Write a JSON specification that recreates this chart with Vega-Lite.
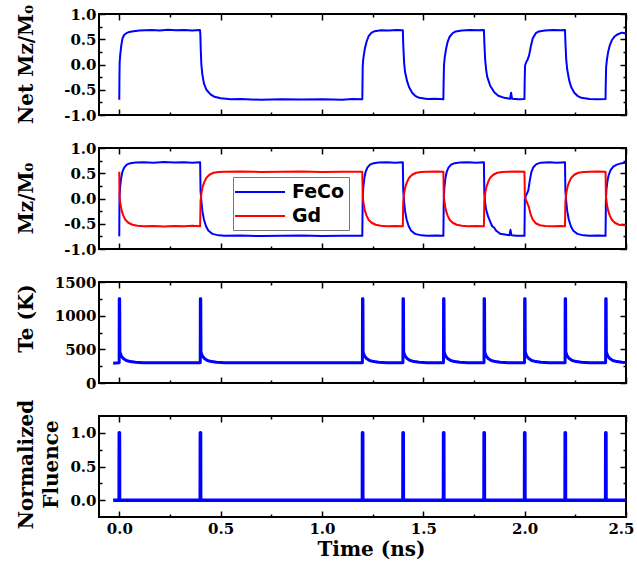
{
"$schema": "https://vega.github.io/schema/vega-lite/v6.json",
"background": "white",
"padding": {"left": 14, "top": 3, "right": 5, "bottom": 5},
"config": {
  "view": {"stroke": "#000", "strokeWidth": 2},
  "axis": {"domain": false, "grid": false, "ticks": true, "tickColor": "#000", "tickWidth": 1.5, "labelFlush": false,
    "offset": -6, "tickSize": 6,
    "labelFont": "DejaVu Serif", "labelFontWeight": "bold", "labelFontSize": 15, "labelColor": "#000",
    "titleFont": "DejaVu Serif", "titleFontWeight": "bold", "titleFontSize": 20, "titleColor": "#000"}
},
"resolve": {"legend": {"color": "independent"}},
"spacing": 33,
"bounds": "flush",
"datasets": {
"net": [
{"t":0,"v":-0.70},{"t":0.001,"v":-0.20},{"t":0.002,"v":0.05},{"t":0.005,"v":0.20},{"t":0.010,"v":0.38},{"t":0.016,"v":0.52},{"t":0.025,"v":0.59},{"t":0.035,"v":0.62},{"t":0.05,"v":0.645},{"t":0.07,"v":0.66},{"t":0.10,"v":0.675},{"t":0.13,"v":0.68},{"t":0.16,"v":0.685},{"t":0.20,"v":0.675},{"t":0.24,"v":0.69},{"t":0.28,"v":0.68},{"t":0.32,"v":0.685},{"t":0.36,"v":0.675},{"t":0.398,"v":0.685},
{"t":0.400,"v":0.60},{"t":0.402,"v":0.30},{"t":0.405,"v":0.00},{"t":0.410,"v":-0.20},{"t":0.418,"v":-0.38},{"t":0.430,"v":-0.50},{"t":0.45,"v":-0.59},{"t":0.47,"v":-0.64},{"t":0.50,"v":-0.67},{"t":0.55,"v":-0.69},{"t":0.60,"v":-0.685},{"t":0.70,"v":-0.70},{"t":0.80,"v":-0.69},{"t":0.90,"v":-0.695},{"t":1.00,"v":-0.69},{"t":1.10,"v":-0.70},{"t":1.15,"v":-0.685},{"t":1.199,"v":-0.69},
{"t":1.200,"v":-0.40},{"t":1.201,"v":-0.05},{"t":1.203,"v":0.08},{"t":1.207,"v":0.20},{"t":1.212,"v":0.32},{"t":1.22,"v":0.45},{"t":1.23,"v":0.56},{"t":1.245,"v":0.63},{"t":1.26,"v":0.66},{"t":1.29,"v":0.68},{"t":1.33,"v":0.675},{"t":1.37,"v":0.685},{"t":1.399,"v":0.68},
{"t":1.401,"v":0.40},{"t":1.405,"v":0.05},{"t":1.41,"v":-0.15},{"t":1.42,"v":-0.33},{"t":1.43,"v":-0.45},{"t":1.445,"v":-0.56},{"t":1.46,"v":-0.62},{"t":1.48,"v":-0.66},{"t":1.52,"v":-0.685},{"t":1.56,"v":-0.68},{"t":1.599,"v":-0.69},
{"t":1.600,"v":-0.40},{"t":1.602,"v":-0.02},{"t":1.606,"v":0.15},{"t":1.612,"v":0.30},{"t":1.62,"v":0.45},{"t":1.63,"v":0.55},{"t":1.645,"v":0.62},{"t":1.66,"v":0.655},{"t":1.69,"v":0.675},{"t":1.73,"v":0.685},{"t":1.77,"v":0.68},{"t":1.799,"v":0.685},
{"t":1.801,"v":0.45},{"t":1.805,"v":0.10},{"t":1.81,"v":-0.10},{"t":1.815,"v":-0.24},{"t":1.83,"v":-0.42},{"t":1.85,"v":-0.55},{"t":1.87,"v":-0.62},{"t":1.90,"v":-0.66},{"t":1.928,"v":-0.68},{"t":1.933,"v":-0.56},{"t":1.938,"v":-0.68},{"t":1.97,"v":-0.69},{"t":1.999,"v":-0.685},
{"t":2.000,"v":-0.35},{"t":2.002,"v":-0.02},{"t":2.008,"v":0.05},{"t":2.015,"v":0.10},{"t":2.022,"v":0.18},{"t":2.03,"v":0.35},{"t":2.04,"v":0.52},{"t":2.055,"v":0.62},{"t":2.07,"v":0.655},{"t":2.10,"v":0.675},{"t":2.14,"v":0.685},{"t":2.18,"v":0.68},{"t":2.199,"v":0.685},
{"t":2.201,"v":0.45},{"t":2.205,"v":0.10},{"t":2.21,"v":-0.10},{"t":2.22,"v":-0.32},{"t":2.23,"v":-0.45},{"t":2.245,"v":-0.56},{"t":2.26,"v":-0.62},{"t":2.28,"v":-0.66},{"t":2.32,"v":-0.685},{"t":2.36,"v":-0.69},{"t":2.399,"v":-0.685},
{"t":2.400,"v":-0.40},{"t":2.402,"v":-0.05},{"t":2.406,"v":0.10},{"t":2.412,"v":0.25},{"t":2.42,"v":0.38},{"t":2.43,"v":0.48},{"t":2.445,"v":0.56},{"t":2.46,"v":0.60},{"t":2.48,"v":0.63},{"t":2.495,"v":0.62},{"t":2.50,"v":0.60}
],
"mag": [
{"s":"FeCo","t":0,"v":-0.75},{"s":"FeCo","t":0.001,"v":0.0},{"s":"FeCo","t":0.004,"v":0.22},{"s":"FeCo","t":0.009,"v":0.40},{"s":"FeCo","t":0.015,"v":0.52},{"s":"FeCo","t":0.024,"v":0.61},{"s":"FeCo","t":0.037,"v":0.67},{"s":"FeCo","t":0.055,"v":0.70},{"s":"FeCo","t":0.08,"v":0.715},{"s":"FeCo","t":0.12,"v":0.72},{"s":"FeCo","t":0.17,"v":0.71},{"s":"FeCo","t":0.22,"v":0.725},{"s":"FeCo","t":0.27,"v":0.715},{"s":"FeCo","t":0.32,"v":0.72},{"s":"FeCo","t":0.36,"v":0.71},{"s":"FeCo","t":0.399,"v":0.72},
{"s":"FeCo","t":0.401,"v":0.15},{"s":"FeCo","t":0.405,"v":-0.05},{"s":"FeCo","t":0.41,"v":-0.25},{"s":"FeCo","t":0.418,"v":-0.42},{"s":"FeCo","t":0.428,"v":-0.55},{"s":"FeCo","t":0.44,"v":-0.64},{"s":"FeCo","t":0.46,"v":-0.70},{"s":"FeCo","t":0.49,"v":-0.73},{"s":"FeCo","t":0.52,"v":-0.74},{"s":"FeCo","t":0.6,"v":-0.735},{"s":"FeCo","t":0.7,"v":-0.745},{"s":"FeCo","t":0.8,"v":-0.74},{"s":"FeCo","t":0.9,"v":-0.735},{"s":"FeCo","t":1.0,"v":-0.745},{"s":"FeCo","t":1.1,"v":-0.74},{"s":"FeCo","t":1.199,"v":-0.74},
{"s":"FeCo","t":1.201,"v":0.0},{"s":"FeCo","t":1.204,"v":0.22},{"s":"FeCo","t":1.209,"v":0.40},{"s":"FeCo","t":1.215,"v":0.52},{"s":"FeCo","t":1.224,"v":0.61},{"s":"FeCo","t":1.237,"v":0.67},{"s":"FeCo","t":1.255,"v":0.70},{"s":"FeCo","t":1.28,"v":0.715},{"s":"FeCo","t":1.32,"v":0.72},{"s":"FeCo","t":1.36,"v":0.71},{"s":"FeCo","t":1.399,"v":0.72},
{"s":"FeCo","t":1.401,"v":0.15},{"s":"FeCo","t":1.405,"v":-0.05},{"s":"FeCo","t":1.41,"v":-0.25},{"s":"FeCo","t":1.418,"v":-0.42},{"s":"FeCo","t":1.428,"v":-0.55},{"s":"FeCo","t":1.44,"v":-0.64},{"s":"FeCo","t":1.46,"v":-0.70},{"s":"FeCo","t":1.49,"v":-0.73},{"s":"FeCo","t":1.52,"v":-0.74},{"s":"FeCo","t":1.56,"v":-0.735},{"s":"FeCo","t":1.599,"v":-0.74},
{"s":"FeCo","t":1.601,"v":0.0},{"s":"FeCo","t":1.604,"v":0.22},{"s":"FeCo","t":1.609,"v":0.40},{"s":"FeCo","t":1.615,"v":0.52},{"s":"FeCo","t":1.624,"v":0.61},{"s":"FeCo","t":1.637,"v":0.67},{"s":"FeCo","t":1.655,"v":0.70},{"s":"FeCo","t":1.68,"v":0.715},{"s":"FeCo","t":1.72,"v":0.72},{"s":"FeCo","t":1.76,"v":0.71},{"s":"FeCo","t":1.799,"v":0.72},
{"s":"FeCo","t":1.801,"v":0.10},{"s":"FeCo","t":1.805,"v":-0.08},{"s":"FeCo","t":1.81,"v":-0.22},{"s":"FeCo","t":1.82,"v":-0.36},{"s":"FeCo","t":1.83,"v":-0.46},{"s":"FeCo","t":1.84,"v":-0.55},{"s":"FeCo","t":1.85,"v":-0.58},{"s":"FeCo","t":1.86,"v":-0.64},{"s":"FeCo","t":1.88,"v":-0.70},{"s":"FeCo","t":1.91,"v":-0.72},{"s":"FeCo","t":1.925,"v":-0.73},{"s":"FeCo","t":1.93,"v":-0.62},{"s":"FeCo","t":1.935,"v":-0.73},{"s":"FeCo","t":1.96,"v":-0.74},{"s":"FeCo","t":1.999,"v":-0.74},
{"s":"FeCo","t":2.001,"v":-0.02},{"s":"FeCo","t":2.006,"v":0.06},{"s":"FeCo","t":2.012,"v":0.10},{"s":"FeCo","t":2.018,"v":0.16},{"s":"FeCo","t":2.025,"v":0.35},{"s":"FeCo","t":2.033,"v":0.52},{"s":"FeCo","t":2.043,"v":0.62},{"s":"FeCo","t":2.058,"v":0.68},{"s":"FeCo","t":2.08,"v":0.71},{"s":"FeCo","t":2.12,"v":0.72},{"s":"FeCo","t":2.16,"v":0.71},{"s":"FeCo","t":2.199,"v":0.72},
{"s":"FeCo","t":2.201,"v":0.15},{"s":"FeCo","t":2.205,"v":-0.05},{"s":"FeCo","t":2.21,"v":-0.25},{"s":"FeCo","t":2.218,"v":-0.42},{"s":"FeCo","t":2.228,"v":-0.55},{"s":"FeCo","t":2.24,"v":-0.64},{"s":"FeCo","t":2.26,"v":-0.70},{"s":"FeCo","t":2.29,"v":-0.73},{"s":"FeCo","t":2.32,"v":-0.74},{"s":"FeCo","t":2.36,"v":-0.735},{"s":"FeCo","t":2.399,"v":-0.74},
{"s":"FeCo","t":2.401,"v":0.0},{"s":"FeCo","t":2.404,"v":0.2},{"s":"FeCo","t":2.409,"v":0.36},{"s":"FeCo","t":2.415,"v":0.47},{"s":"FeCo","t":2.424,"v":0.56},{"s":"FeCo","t":2.437,"v":0.63},{"s":"FeCo","t":2.455,"v":0.67},{"s":"FeCo","t":2.48,"v":0.70},{"s":"FeCo","t":2.5,"v":0.71},
{"s":"Gd","t":0,"v":0.53},{"s":"Gd","t":0.001,"v":0.05},{"s":"Gd","t":0.006,"v":-0.12},{"s":"Gd","t":0.012,"v":-0.24},{"s":"Gd","t":0.02,"v":-0.34},{"s":"Gd","t":0.03,"v":-0.42},{"s":"Gd","t":0.045,"v":-0.48},{"s":"Gd","t":0.065,"v":-0.52},{"s":"Gd","t":0.09,"v":-0.54},{"s":"Gd","t":0.12,"v":-0.55},{"s":"Gd","t":0.17,"v":-0.545},{"s":"Gd","t":0.22,"v":-0.555},{"s":"Gd","t":0.27,"v":-0.545},{"s":"Gd","t":0.32,"v":-0.55},{"s":"Gd","t":0.36,"v":-0.54},{"s":"Gd","t":0.399,"v":-0.55},
{"s":"Gd","t":0.401,"v":-0.05},{"s":"Gd","t":0.406,"v":0.12},{"s":"Gd","t":0.412,"v":0.24},{"s":"Gd","t":0.42,"v":0.33},{"s":"Gd","t":0.43,"v":0.41},{"s":"Gd","t":0.445,"v":0.47},{"s":"Gd","t":0.465,"v":0.51},{"s":"Gd","t":0.49,"v":0.525},{"s":"Gd","t":0.52,"v":0.53},{"s":"Gd","t":0.6,"v":0.535},{"s":"Gd","t":0.7,"v":0.525},{"s":"Gd","t":0.8,"v":0.53},{"s":"Gd","t":0.9,"v":0.535},{"s":"Gd","t":1.0,"v":0.525},{"s":"Gd","t":1.1,"v":0.53},{"s":"Gd","t":1.199,"v":0.53},
{"s":"Gd","t":1.201,"v":0.05},{"s":"Gd","t":1.206,"v":-0.12},{"s":"Gd","t":1.212,"v":-0.24},{"s":"Gd","t":1.22,"v":-0.34},{"s":"Gd","t":1.23,"v":-0.42},{"s":"Gd","t":1.245,"v":-0.48},{"s":"Gd","t":1.265,"v":-0.52},{"s":"Gd","t":1.29,"v":-0.54},{"s":"Gd","t":1.32,"v":-0.55},{"s":"Gd","t":1.36,"v":-0.545},{"s":"Gd","t":1.399,"v":-0.55},
{"s":"Gd","t":1.401,"v":-0.05},{"s":"Gd","t":1.406,"v":0.12},{"s":"Gd","t":1.412,"v":0.24},{"s":"Gd","t":1.42,"v":0.33},{"s":"Gd","t":1.43,"v":0.41},{"s":"Gd","t":1.445,"v":0.47},{"s":"Gd","t":1.465,"v":0.51},{"s":"Gd","t":1.49,"v":0.525},{"s":"Gd","t":1.52,"v":0.53},{"s":"Gd","t":1.56,"v":0.535},{"s":"Gd","t":1.599,"v":0.53},
{"s":"Gd","t":1.601,"v":0.05},{"s":"Gd","t":1.606,"v":-0.12},{"s":"Gd","t":1.612,"v":-0.24},{"s":"Gd","t":1.62,"v":-0.34},{"s":"Gd","t":1.63,"v":-0.42},{"s":"Gd","t":1.645,"v":-0.48},{"s":"Gd","t":1.665,"v":-0.52},{"s":"Gd","t":1.69,"v":-0.54},{"s":"Gd","t":1.72,"v":-0.55},{"s":"Gd","t":1.76,"v":-0.545},{"s":"Gd","t":1.799,"v":-0.55},
{"s":"Gd","t":1.801,"v":-0.05},{"s":"Gd","t":1.806,"v":0.12},{"s":"Gd","t":1.812,"v":0.24},{"s":"Gd","t":1.82,"v":0.33},{"s":"Gd","t":1.83,"v":0.41},{"s":"Gd","t":1.845,"v":0.47},{"s":"Gd","t":1.865,"v":0.51},{"s":"Gd","t":1.89,"v":0.525},{"s":"Gd","t":1.92,"v":0.53},{"s":"Gd","t":1.96,"v":0.535},{"s":"Gd","t":1.999,"v":0.53},
{"s":"Gd","t":2.001,"v":0.05},{"s":"Gd","t":2.006,"v":-0.02},{"s":"Gd","t":2.012,"v":-0.08},{"s":"Gd","t":2.02,"v":-0.16},{"s":"Gd","t":2.03,"v":-0.32},{"s":"Gd","t":2.04,"v":-0.42},{"s":"Gd","t":2.055,"v":-0.49},{"s":"Gd","t":2.075,"v":-0.53},{"s":"Gd","t":2.1,"v":-0.545},{"s":"Gd","t":2.14,"v":-0.55},{"s":"Gd","t":2.18,"v":-0.545},{"s":"Gd","t":2.199,"v":-0.55},
{"s":"Gd","t":2.201,"v":-0.05},{"s":"Gd","t":2.206,"v":0.12},{"s":"Gd","t":2.212,"v":0.24},{"s":"Gd","t":2.22,"v":0.33},{"s":"Gd","t":2.23,"v":0.41},{"s":"Gd","t":2.245,"v":0.47},{"s":"Gd","t":2.265,"v":0.51},{"s":"Gd","t":2.29,"v":0.525},{"s":"Gd","t":2.32,"v":0.53},{"s":"Gd","t":2.36,"v":0.535},{"s":"Gd","t":2.399,"v":0.53},
{"s":"Gd","t":2.401,"v":0.05},{"s":"Gd","t":2.406,"v":-0.12},{"s":"Gd","t":2.412,"v":-0.24},{"s":"Gd","t":2.42,"v":-0.34},{"s":"Gd","t":2.43,"v":-0.42},{"s":"Gd","t":2.445,"v":-0.48},{"s":"Gd","t":2.465,"v":-0.52},{"s":"Gd","t":2.49,"v":-0.53},{"s":"Gd","t":2.5,"v":-0.53}
],
"te": [
{"t":-0.03,"v":295},{"t":-0.0005,"v":300},{"t":0,"v":1250},{"t":0.002,"v":1250},{"t":0.003,"v":460},{"t":0.01,"v":400},{"t":0.02,"v":365},{"t":0.035,"v":335},{"t":0.055,"v":318},{"t":0.08,"v":308},{"t":0.12,"v":302},{"t":0.2,"v":300},{"t":0.3995,"v":300},
{"t":0.4,"v":1250},{"t":0.402,"v":1250},{"t":0.403,"v":460},{"t":0.41,"v":400},{"t":0.42,"v":365},{"t":0.435,"v":335},{"t":0.455,"v":318},{"t":0.48,"v":308},{"t":0.52,"v":302},{"t":0.6,"v":300},{"t":1.1995,"v":300},
{"t":1.2,"v":1250},{"t":1.202,"v":1250},{"t":1.203,"v":460},{"t":1.21,"v":400},{"t":1.22,"v":365},{"t":1.235,"v":335},{"t":1.255,"v":318},{"t":1.28,"v":308},{"t":1.32,"v":302},{"t":1.3995,"v":300},
{"t":1.4,"v":1250},{"t":1.402,"v":1250},{"t":1.403,"v":460},{"t":1.41,"v":400},{"t":1.42,"v":365},{"t":1.435,"v":335},{"t":1.455,"v":318},{"t":1.48,"v":308},{"t":1.52,"v":302},{"t":1.5995,"v":300},
{"t":1.6,"v":1250},{"t":1.602,"v":1250},{"t":1.603,"v":460},{"t":1.61,"v":400},{"t":1.62,"v":365},{"t":1.635,"v":335},{"t":1.655,"v":318},{"t":1.68,"v":308},{"t":1.72,"v":302},{"t":1.7995,"v":300},
{"t":1.8,"v":1250},{"t":1.802,"v":1250},{"t":1.803,"v":460},{"t":1.81,"v":400},{"t":1.82,"v":365},{"t":1.835,"v":335},{"t":1.855,"v":318},{"t":1.88,"v":308},{"t":1.92,"v":302},{"t":1.9995,"v":300},
{"t":2.0,"v":1250},{"t":2.002,"v":1250},{"t":2.003,"v":460},{"t":2.01,"v":400},{"t":2.02,"v":365},{"t":2.035,"v":335},{"t":2.055,"v":318},{"t":2.08,"v":308},{"t":2.12,"v":302},{"t":2.1995,"v":300},
{"t":2.2,"v":1250},{"t":2.202,"v":1250},{"t":2.203,"v":460},{"t":2.21,"v":400},{"t":2.22,"v":365},{"t":2.235,"v":335},{"t":2.255,"v":318},{"t":2.28,"v":308},{"t":2.32,"v":302},{"t":2.3995,"v":300},
{"t":2.4,"v":1250},{"t":2.402,"v":1250},{"t":2.403,"v":460},{"t":2.41,"v":400},{"t":2.42,"v":365},{"t":2.435,"v":335},{"t":2.455,"v":318},{"t":2.48,"v":308},{"t":2.5,"v":304}
],
"flu": [
{"t":-0.03,"v":0},{"t":-0.0005,"v":0},{"t":0,"v":1},{"t":0.001,"v":1},{"t":0.0015,"v":0},
{"t":0.3995,"v":0},{"t":0.4,"v":1},{"t":0.401,"v":1},{"t":0.4015,"v":0},
{"t":1.1995,"v":0},{"t":1.2,"v":1},{"t":1.201,"v":1},{"t":1.2015,"v":0},
{"t":1.3995,"v":0},{"t":1.4,"v":1},{"t":1.401,"v":1},{"t":1.4015,"v":0},
{"t":1.5995,"v":0},{"t":1.6,"v":1},{"t":1.601,"v":1},{"t":1.6015,"v":0},
{"t":1.7995,"v":0},{"t":1.8,"v":1},{"t":1.801,"v":1},{"t":1.8015,"v":0},
{"t":1.9995,"v":0},{"t":2.0,"v":1},{"t":2.001,"v":1},{"t":2.0015,"v":0},
{"t":2.1995,"v":0},{"t":2.2,"v":1},{"t":2.201,"v":1},{"t":2.2015,"v":0},
{"t":2.3995,"v":0},{"t":2.4,"v":1},{"t":2.401,"v":1},{"t":2.4015,"v":0},{"t":2.5,"v":0}
]
},
"vconcat": [
{
 "width": 527, "height": 101,
 "data": {"name": "net"},
 "layer": [
  {"mark": {"type": "line", "color": "#0000ff", "strokeWidth": 2, "strokeJoin": "round"},
   "encoding": {
    "x": {"field": "t", "type": "quantitative", "scale": {"domain": [-0.1, 2.5], "nice": false, "zero": false},
      "axis": {"orient": "bottom", "values": [0,0.25,0.5,0.75,1,1.25,1.5,1.75,2,2.25,2.5], "labels": false, "title": null,
        "tickDash": {"condition": {"test": "abs(datum.value*2-round(datum.value*2))<0.001", "value": [10,0]}, "value": [0,3,3]}}},
    "y": {"field": "v", "type": "quantitative", "scale": {"domain": [-1, 1], "nice": false, "zero": false},
      "axis": {"orient": "left", "values": [-1,-0.75,-0.5,-0.25,0,0.25,0.5,0.75,1], "labelPadding": 3,
        "tickDash": {"condition": {"test": "abs(datum.value*2-round(datum.value*2))<0.001", "value": [10,0]}, "value": [0,3,3]},
        "labelExpr": "abs(datum.value*2-round(datum.value*2))<0.001 ? (datum.value<0 ? '-' : '') + format(abs(datum.value),'.1f') : ''",
        "title": "Net Mz/M₀", "titleX": -79, "titleY": 50, "titleAngle": 270, "titleBaseline": "middle", "titleAlign": "center"}}
   }},
  {"mark": {"type": "line", "strokeOpacity": 0},
   "encoding": {
    "x": {"field": "t", "type": "quantitative", "axis": {"orient": "top", "values": [0,0.25,0.5,0.75,1,1.25,1.5,1.75,2,2.25,2.5], "labels": false, "title": null,
        "tickDash": {"condition": {"test": "abs(datum.value*2-round(datum.value*2))<0.001", "value": [10,0]}, "value": [0,3,3]}}},
    "y": {"field": "v", "type": "quantitative", "axis": {"orient": "right", "values": [-1,-0.75,-0.5,-0.25,0,0.25,0.5,0.75,1], "labels": false, "title": null,
        "tickDash": {"condition": {"test": "abs(datum.value*2-round(datum.value*2))<0.001", "value": [10,0]}, "value": [0,3,3]}}}
   }}
 ],
 "resolve": {"axis": {"x": "independent", "y": "independent"}}
},
{
 "width": 527, "height": 101,
 "data": {"name": "mag"},
 "layer": [
  {"mark": {"type": "line", "strokeWidth": 2, "strokeJoin": "round"},
   "encoding": {
    "x": {"field": "t", "type": "quantitative", "scale": {"domain": [-0.1, 2.5], "nice": false, "zero": false},
      "axis": {"orient": "bottom", "values": [0,0.25,0.5,0.75,1,1.25,1.5,1.75,2,2.25,2.5], "labels": false, "title": null,
        "tickDash": {"condition": {"test": "abs(datum.value*2-round(datum.value*2))<0.001", "value": [10,0]}, "value": [0,3,3]}}},
    "y": {"field": "v", "type": "quantitative", "scale": {"domain": [-1, 1], "nice": false, "zero": false},
      "axis": {"orient": "left", "values": [-1,-0.75,-0.5,-0.25,0,0.25,0.5,0.75,1], "labelPadding": 3,
        "tickDash": {"condition": {"test": "abs(datum.value*2-round(datum.value*2))<0.001", "value": [10,0]}, "value": [0,3,3]},
        "labelExpr": "abs(datum.value*2-round(datum.value*2))<0.001 ? (datum.value<0 ? '-' : '') + format(abs(datum.value),'.1f') : ''",
        "title": "Mz/M₀", "titleX": -79, "titleY": 50, "titleAngle": 270, "titleBaseline": "middle", "titleAlign": "center"}},
    "color": {"field": "s", "type": "nominal", "scale": {"domain": ["FeCo", "Gd"], "range": ["#0000ff", "#ff0000"]},
      "legend": {"orient": "none", "legendX": 134, "legendY": 29, "title": null, "symbolType": "M-2.5,0H2.5", "symbolSize": 400, "symbolStrokeWidth": 2, "symbolOffset": 12,
        "labelFont": "DejaVu Sans", "labelFontWeight": "bold", "labelFontSize": 19, "labelColor": "#000", "labelOffset": 21,
        "strokeColor": "#777", "fillColor": "#fff", "padding": 4, "rowPadding": 3}}
   }},
  {"mark": {"type": "line", "strokeOpacity": 0},
   "encoding": {
    "x": {"field": "t", "type": "quantitative", "axis": {"orient": "top", "values": [0,0.25,0.5,0.75,1,1.25,1.5,1.75,2,2.25,2.5], "labels": false, "title": null,
        "tickDash": {"condition": {"test": "abs(datum.value*2-round(datum.value*2))<0.001", "value": [10,0]}, "value": [0,3,3]}}},
    "y": {"field": "v", "type": "quantitative", "axis": {"orient": "right", "values": [-1,-0.75,-0.5,-0.25,0,0.25,0.5,0.75,1], "labels": false, "title": null,
        "tickDash": {"condition": {"test": "abs(datum.value*2-round(datum.value*2))<0.001", "value": [10,0]}, "value": [0,3,3]}}}
   }}
 ],
 "resolve": {"axis": {"x": "independent", "y": "independent"}}
},
{
 "width": 527, "height": 101,
 "data": {"name": "te"},
 "layer": [
  {"mark": {"type": "line", "color": "#0000ff", "strokeWidth": 3, "strokeJoin": "round"},
   "encoding": {
    "x": {"field": "t", "type": "quantitative", "scale": {"domain": [-0.1, 2.5], "nice": false, "zero": false},
      "axis": {"orient": "bottom", "values": [0,0.25,0.5,0.75,1,1.25,1.5,1.75,2,2.25,2.5], "labels": false, "title": null,
        "tickDash": {"condition": {"test": "abs(datum.value*2-round(datum.value*2))<0.001", "value": [10,0]}, "value": [0,3,3]}}},
    "y": {"field": "v", "type": "quantitative", "scale": {"domain": [0, 1500], "nice": false, "zero": false},
      "axis": {"orient": "left", "values": [0,250,500,750,1000,1250,1500], "labelPadding": 3,
        "tickDash": {"condition": {"test": "datum.value % 500 === 0", "value": [10,0]}, "value": [0,3,3]},
        "labelExpr": "datum.value % 500 === 0 ? format(datum.value,'d') : ''",
        "title": "Te (K)", "titleX": -79, "titleY": 36, "titleAngle": 270, "titleBaseline": "middle", "titleAlign": "center"}}
   }},
  {"mark": {"type": "line", "strokeOpacity": 0},
   "encoding": {
    "x": {"field": "t", "type": "quantitative", "axis": {"orient": "top", "values": [0,0.25,0.5,0.75,1,1.25,1.5,1.75,2,2.25,2.5], "labels": false, "title": null,
        "tickDash": {"condition": {"test": "abs(datum.value*2-round(datum.value*2))<0.001", "value": [10,0]}, "value": [0,3,3]}}},
    "y": {"field": "v", "type": "quantitative", "axis": {"orient": "right", "values": [0,250,500,750,1000,1250,1500], "labels": false, "title": null,
        "tickDash": {"condition": {"test": "datum.value % 500 === 0", "value": [10,0]}, "value": [0,3,3]}}}
   }}
 ],
 "resolve": {"axis": {"x": "independent", "y": "independent"}}
},
{
 "width": 527, "height": 101,
 "data": {"name": "flu"},
 "layer": [
  {"mark": {"type": "line", "color": "#0000ff", "strokeWidth": 3.5, "strokeJoin": "round"},
   "encoding": {
    "x": {"field": "t", "type": "quantitative", "scale": {"domain": [-0.1, 2.5], "nice": false, "zero": false},
      "axis": {"orient": "bottom", "values": [0,0.25,0.5,0.75,1,1.25,1.5,1.75,2,2.25,2.5], "labelPadding": 4, "labelFlush": true, "labelFlushOffset": 8,
        "tickDash": {"condition": {"test": "abs(datum.value*2-round(datum.value*2))<0.001", "value": [10,0]}, "value": [0,3,3]},
        "labelExpr": "abs(datum.value*2-round(datum.value*2))<0.001 ? format(datum.value,'.1f') : ''",
        "title": "Time (ns)", "titleX": 272, "titleY": 38, "titleBaseline": "middle", "titleAlign": "center", "titleFontSize": 20}},
    "y": {"field": "v", "type": "quantitative", "scale": {"domain": [-0.25, 1.25], "nice": false, "zero": false},
      "axis": {"orient": "left", "values": [0,0.25,0.5,0.75,1], "labelPadding": 3,
        "tickDash": {"condition": {"test": "abs(datum.value*2-round(datum.value*2))<0.001", "value": [10,0]}, "value": [0,3,3]},
        "labelExpr": "abs(datum.value*2-round(datum.value*2))<0.001 ? format(datum.value,'.1f') : ''",
        "title": ["Normalized", "Fluence"], "titleX": -79, "titleY": 48, "titleAngle": 270, "titleBaseline": "middle", "titleAlign": "center", "titleLineHeight": 25}}
   }},
  {"mark": {"type": "line", "strokeOpacity": 0},
   "encoding": {
    "x": {"field": "t", "type": "quantitative", "axis": {"orient": "top", "values": [0,0.25,0.5,0.75,1,1.25,1.5,1.75,2,2.25,2.5], "labels": false, "title": null,
        "tickDash": {"condition": {"test": "abs(datum.value*2-round(datum.value*2))<0.001", "value": [10,0]}, "value": [0,3,3]}}},
    "y": {"field": "v", "type": "quantitative", "axis": {"orient": "right", "values": [0,0.25,0.5,0.75,1], "labels": false, "title": null,
        "tickDash": {"condition": {"test": "abs(datum.value*2-round(datum.value*2))<0.001", "value": [10,0]}, "value": [0,3,3]}}}
   }}
 ],
 "resolve": {"axis": {"x": "independent", "y": "independent"}}
}
]
}
